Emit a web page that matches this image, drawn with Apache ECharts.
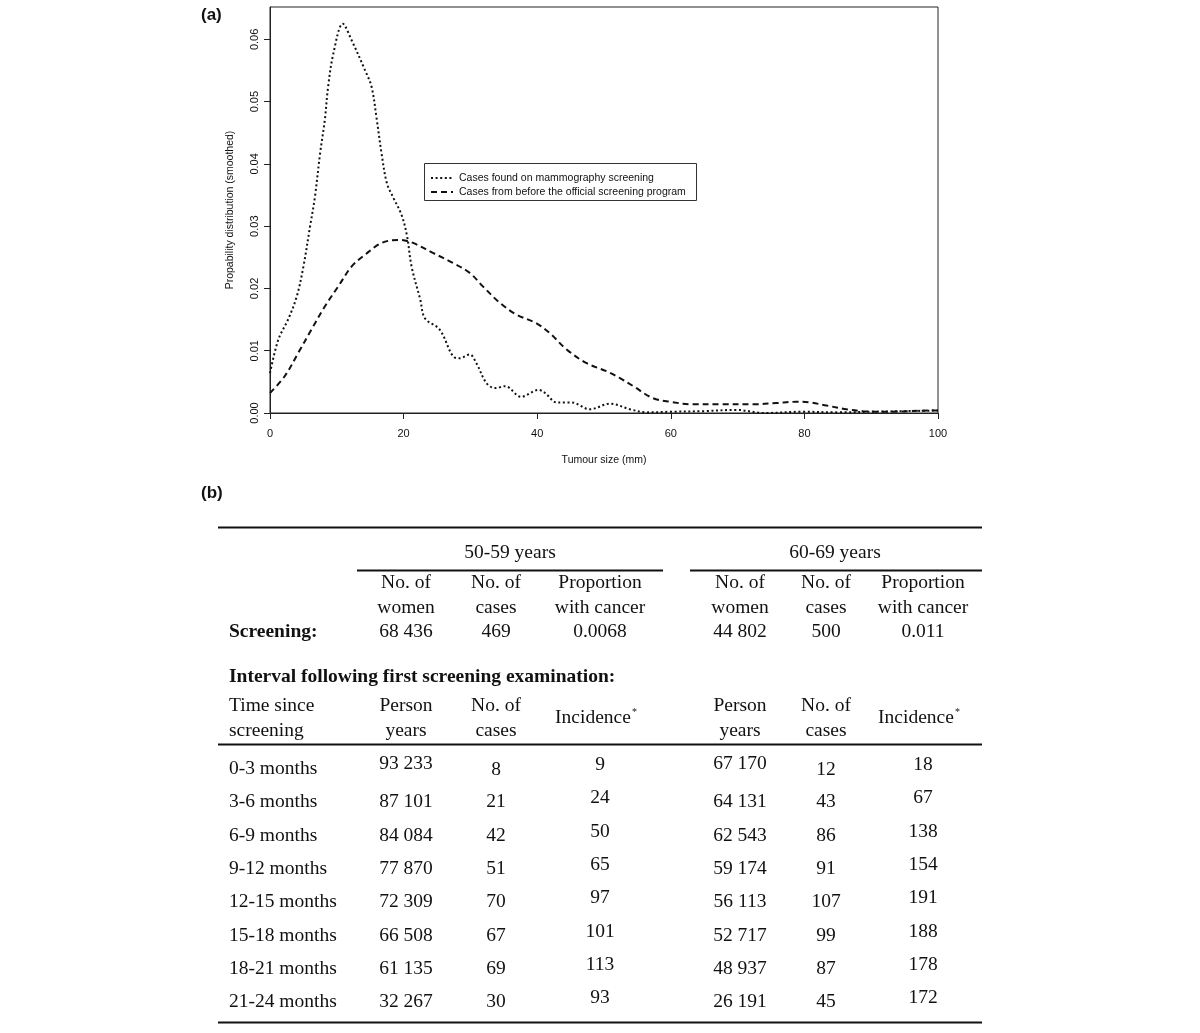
<!DOCTYPE html>
<html>
<head>
<meta charset="utf-8">
<script src="https://cdn.jsdelivr.net/npm/echarts@6/dist/echarts.min.js"></script>
<style>html,body{margin:0;padding:0;background:#fff}#c{width:1200px;height:1033px}</style>
</head>
<body>
<div id="c"></div>
<script>
// ---- Panel (a) data: [tumour size mm, smoothed probability] ----
const screeningCases = [
  [0,0.0064],[1.25,0.0118],[2.7,0.015],[4,0.0187],[5,0.0235],[6,0.030],[6.7,0.0345],
  [7.5,0.0417],[8.2,0.047],[8.7,0.0524],[9.5,0.0578],[10.9,0.0625],[12.2,0.0599],
  [14.2,0.0551],[15.2,0.0524],[16.0,0.047],[16.7,0.0417],[17.5,0.0369],[18.5,0.0345],
  [19.7,0.0318],[20.5,0.0285],[21.2,0.0235],[22.5,0.0182],[23.2,0.0152],[25.4,0.0134],
  [27.4,0.0091],[28.4,0.0088],[29.9,0.0094],[30.9,0.008],[32.4,0.0048],[33.7,0.004],
  [35.2,0.0043],[37.6,0.0026],[40.2,0.0037],[41.2,0.0032],[42.9,0.0017],[45.1,0.0017],
  [47.9,0.0006],[50.9,0.0015],[53.9,0.0006],[56.4,0.0001],[60,0.0002],[65,0.0003],
  [69.8,0.0005],[74,0.0],[79.8,0.0002],[85,0.0001],[90,0.0002],[95,0.0003],[100,0.0004]
];
const preScreeningCases = [
  [0,0.0032],[2.2,0.0059],[4.2,0.0096],[6.2,0.0134],[8.2,0.0171],[10.2,0.0203],
  [12.2,0.0235],[14.2,0.0254],[16.7,0.0273],[19.2,0.0278],[21.2,0.0274],[24.4,0.0257],
  [27.4,0.0241],[29.9,0.0225],[31.9,0.0203],[34.4,0.0177],[36.9,0.0158],[39.9,0.0144],
  [41.9,0.0128],[44.4,0.0102],[47.4,0.008],[50.4,0.0067],[52.4,0.0056],[54.4,0.0043],
  [57.3,0.0024],[59.9,0.0018],[63.3,0.0014],[67.4,0.0014],[72.3,0.0014],[75.8,0.0016],
  [78.8,0.0018],[80.8,0.0017],[83.3,0.0012],[86.3,0.0006],[88.8,0.0003],[92.3,0.0002],
  [95.8,0.0003],[98.8,0.0004],[100,0.0004]
];
const seriesNames = ['Cases found on mammography screening', 'Cases from before the official screening program'];
const xTicks = [0, 20, 40, 60, 80, 100];

// ---- Panel (b) table data ----
const ageGroups = ['50-59 years', '60-69 years'];
const screeningHeaders = [['No. of', 'women'], ['No. of', 'cases'], ['Proportion', 'with cancer']];
const screening5059 = ['68 436', '469', '0.0068'];
const screening6069 = ['44 802', '500', '0.011'];
const intervalHeaders = [['Person', 'years'], ['No. of', 'cases']];
const timeLabels = ['0-3 months','3-6 months','6-9 months','9-12 months','12-15 months','15-18 months','18-21 months','21-24 months'];
const personYears5059 = ['93 233','87 101','84 084','77 870','72 309','66 508','61 135','32 267'];
const cases5059 = ['8','21','42','51','70','67','69','30'];
const incidence5059 = ['9','24','50','65','97','101','113','93'];
const personYears6069 = ['67 170','64 131','62 543','59 174','56 113','52 717','48 937','26 191'];
const cases6069 = ['12','43','86','91','107','99','87','45'];
const incidence6069 = ['18','67','138','154','191','188','178','172'];

// ---- styles ----
const dotStyle = { color: '#111', width: 2, type: [2, 2.6] };
const dashStyle = { color: '#111', width: 2, type: [6, 4] };

// ---- layout helpers ----
const serif = '"Liberation Serif","Times New Roman",serif';
const sans = '"Liberation Sans",Arial,sans-serif';
const FS = 19.5;
const g = [];
function txt(x, y, s, opt) {
  opt = opt || {};
  g.push({
    type: 'text', x: x, y: y, silent: true,
    style: {
      text: s, fill: '#111', font: (opt.bold ? 'bold ' : '') + (opt.size || FS) + 'px ' + (opt.family || serif),
      textAlign: opt.align || 'center', textVerticalAlign: 'middle', rich: opt.rich
    }
  });
}
function rule(x1, x2, y, w) {
  g.push({ type: 'line', silent: true, shape: { x1: x1, y1: y, x2: x2, y2: y }, style: { stroke: '#111', lineWidth: w || 2 } });
}

txt(201, 15, '(a)', { bold: true, size: 17, family: sans, align: 'left' });
txt(201, 493, '(b)', { bold: true, size: 17, family: sans, align: 'left' });

// legend (drawn as a box with line samples)
g.push({ type: 'rect', silent: true, shape: { x: 424.5, y: 163.5, width: 272, height: 37 }, style: { fill: '#fff', stroke: '#333', lineWidth: 1 }, z: 10 });
[dotStyle, dashStyle].forEach((ls, i) => {
  const y = 178 + i * 14;
  g.push({ type: 'line', silent: true, z: 11, shape: { x1: 431, y1: y, x2: 453, y2: y },
    style: { stroke: '#111', lineWidth: ls.width, lineDash: ls.type } });
  g.push({ type: 'text', silent: true, z: 11, x: 459, y: y,
    style: { text: seriesNames[i], fill: '#111', font: '10.5px ' + sans, textAlign: 'left', textVerticalAlign: 'middle' } });
});

rule(218, 982, 527.5, 2);
const groupCenters = [510, 835];
const underline = [[357, 663], [690, 982]];
const colX = [[406, 496, 600], [740, 826, 923]];
ageGroups.forEach((a, k) => {
  txt(groupCenters[k], 553, a);
  rule(underline[k][0], underline[k][1], 570.5, 2);
  screeningHeaders.forEach((h, j) => {
    txt(colX[k][j], 583, h[0]);
    txt(colX[k][j], 608, h[1]);
  });
  const sv = k === 0 ? screening5059 : screening6069;
  sv.forEach((v, j) => txt(colX[k][j], 632, v));
  intervalHeaders.forEach((h, j) => {
    txt(colX[k][j], 706, h[0]);
    txt(colX[k][j], 731, h[1]);
  });
  txt(colX[k][2] - 4, 718, 'Incidence{s|*}', { rich: { s: { fontSize: 10, fontFamily: serif, verticalAlign: 'top', padding: [0, 0, 12, 1], fill: '#111' } } });
});
txt(229, 632, 'Screening:', { bold: true, align: 'left' });
txt(229, 677, 'Interval following first screening examination:', { bold: true, align: 'left' });
txt(229, 706, 'Time since', { align: 'left' });
txt(229, 731, 'screening', { align: 'left' });
rule(218, 982, 744.5, 2);

const cols = [
  [personYears5059, 0, 0], [cases5059, 0, 1], [incidence5059, 0, 2],
  [personYears6069, 1, 0], [cases6069, 1, 1], [incidence6069, 1, 2]
];
timeLabels.forEach((t, i) => {
  const y = 769 + i * 33.3;
  txt(229, y, t, { align: 'left' });
  cols.forEach(c => {
    let dy = 0;
    if (c[2] === 2) dy = -4;
    if (i === 0 && c[2] === 0) dy = -5;
    if (i === 0 && c[2] === 1) dy = 1;
    txt(colX[c[1]][c[2]], y + dy, c[0][i]);
  });
});
rule(218, 982, 1022.5, 2);

const chart = echarts.init(document.getElementById('c'), null, { renderer: 'canvas' });
chart.setOption({
  backgroundColor: '#fff',
  animation: false,
  textStyle: { fontFamily: sans },
  grid: { left: 270, top: 7, width: 668, height: 406, show: true, borderColor: '#222', borderWidth: 1, containLabel: false },
  xAxis: {
    type: 'value', min: 0, max: 100, interval: 20,
    name: 'Tumour size (mm)', nameLocation: 'middle', nameGap: 42,
    nameTextStyle: { fontSize: 10.5, color: '#111', fontFamily: sans },
    axisLine: { show: true, lineStyle: { color: '#222', width: 1 } },
    axisTick: { show: true, length: 6, lineStyle: { color: '#222' } },
    axisLabel: { fontSize: 11, color: '#111', margin: 15, fontFamily: sans,
      formatter: v => xTicks.indexOf(v) >= 0 ? String(v) : '' },
    splitLine: { show: false }
  },
  yAxis: {
    type: 'value', min: 0, max: 0.0652, interval: 0.01,
    name: 'Propability distribution (smoothed)', nameLocation: 'middle', nameGap: 34,
    nameTextStyle: { fontSize: 10.5, color: '#111', fontFamily: sans },
    axisLine: { show: true, lineStyle: { color: '#222', width: 1 } },
    axisTick: { show: true, length: 6, lineStyle: { color: '#222' } },
    axisLabel: { rotate: 90, fontSize: 11, color: '#111', margin: 10, fontFamily: sans, showMaxLabel: false,
      formatter: v => v.toFixed(2) },
    splitLine: { show: false }
  },
  series: [
    { name: seriesNames[0], type: 'line', data: screeningCases, symbol: 'none', smooth: 0.35,
      lineStyle: dotStyle, z: 3 },
    { name: seriesNames[1], type: 'line', data: preScreeningCases, symbol: 'none', smooth: 0.35,
      lineStyle: dashStyle, z: 2 }
  ],
  graphic: g
});
</script>
</body>
</html>
